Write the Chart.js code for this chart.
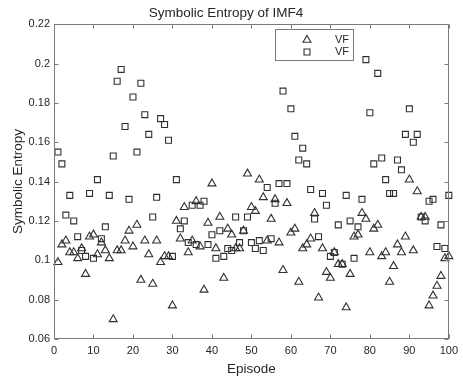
<!DOCTYPE html>
<html>
<head>
<meta charset="utf-8">
<script src="https://cdn.jsdelivr.net/npm/chart.js@4.4.1/dist/chart.umd.min.js"></script>
<style>
  html, body { margin: 0; padding: 0; background: #fff; }
  #wrap { width: 463px; height: 379px; }
</style>
</head>
<body>
<div id="wrap"><canvas id="entropyChart" width="463" height="379"></canvas></div>
<script>
  const episodes = [
    1, 2, 3, 4, 5, 6, 7, 8, 9, 10, 11, 12, 13, 14, 15, 16, 17, 18, 19, 20,
    21, 22, 23, 24, 25, 26, 27, 28, 29, 30, 31, 32, 33, 34, 35, 36, 37, 38, 39, 40,
    41, 42, 43, 44, 45, 46, 47, 48, 49, 50, 51, 52, 53, 54, 55, 56, 57, 58, 59, 60,
    61, 62, 63, 64, 65, 66, 67, 68, 69, 70, 71, 72, 73, 74, 75, 76, 77, 78, 79, 80,
    81, 82, 83, 84, 85, 86, 87, 88, 89, 90, 91, 92, 93, 94, 95, 96, 97, 98, 99, 100
  ];

  // triangle series
  const vfTriangle = [
    0.099, 0.108, 0.110, 0.104, 0.104, 0.101, 0.106, 0.093, 0.112, 0.113,
    0.103, 0.109, 0.105, 0.101, 0.070, 0.105, 0.105, 0.110, 0.115, 0.107,
    0.118, 0.090, 0.110, 0.103, 0.088, 0.110, 0.099, 0.102, 0.102, 0.077,
    0.120, 0.111, 0.127, 0.104, 0.110, 0.130, 0.107, 0.085, 0.119, 0.139,
    0.106, 0.122, 0.091, 0.116, 0.113, 0.106, 0.106, 0.115, 0.144, 0.127,
    0.125, 0.141, 0.132, 0.110, 0.121, 0.131, 0.109, 0.095, 0.129, 0.114,
    0.116, 0.089, 0.106, 0.108, 0.111, 0.124, 0.081, 0.106, 0.094, 0.091,
    0.104, 0.098, 0.098, 0.076, 0.093, 0.112, 0.113, 0.124, 0.121, 0.104,
    0.116, 0.118, 0.102, 0.104, 0.089, 0.097, 0.108, 0.104, 0.112, 0.141,
    0.105, 0.135, 0.122, 0.122, 0.077, 0.082, 0.087, 0.092, 0.101, 0.102
  ];

  // square series
  const vfSquare = [
    0.155, 0.149, 0.123, 0.133, 0.120, 0.112, 0.105, 0.102, 0.134, 0.101,
    0.141, 0.111, 0.117, 0.133, 0.153, 0.191, 0.197, 0.168, 0.131, 0.183,
    0.155, 0.190, 0.174, 0.164, 0.122, 0.132, 0.172, 0.169, 0.161, 0.102,
    0.141, 0.116, 0.120, 0.109, 0.128, 0.108, 0.128, 0.130, 0.108, 0.113,
    0.101, 0.115, 0.102, 0.106, 0.105, 0.122, 0.109, 0.115, 0.122, 0.109,
    0.106, 0.110, 0.105, 0.137, 0.111, 0.129, 0.139, 0.186, 0.139, 0.177,
    0.163, 0.151, 0.157, 0.149, 0.136, 0.121, 0.112, 0.134, 0.128, 0.102,
    0.104, 0.118, 0.098, 0.133, 0.120, 0.101, 0.117, 0.131, 0.202, 0.175,
    0.149, 0.195, 0.152, 0.141, 0.134, 0.134, 0.151, 0.146, 0.164, 0.177,
    0.160, 0.164, 0.122, 0.120, 0.130, 0.131, 0.107, 0.118, 0.106, 0.133
  ];

  const xTicks = [0, 10, 20, 30, 40, 50, 60, 70, 80, 90, 100];
  const yTicks = [0.06, 0.08, 0.1, 0.12, 0.14, 0.16, 0.18, 0.2, 0.22];
  const seriesLabels = ['VF', 'VF'];

  const FONT = '"Liberation Sans", Arial, Helvetica, sans-serif';
  const INK = '#262626';
  const MARK = '#303030';
  const AXIS = '#7a7a7a';

  function toPoints(vals) {
    return episodes.map(function (e, i) { return { x: e, y: vals[i] }; });
  }

  // box, inward ticks on all four sides, legend inside the axes
  const matlabAxes = {
    id: 'matlabAxes',
    afterDraw(chart) {
      const ctx = chart.ctx;
      const a = chart.chartArea;
      const xs = chart.scales.x, ys = chart.scales.y;
      const L = Math.round(a.left) + 0.5, R = Math.round(a.right) - 0.5;
      const T = Math.round(a.top) + 0.5, B = Math.round(a.bottom) - 0.5;
      const tick = 4;
      ctx.save();
      ctx.strokeStyle = AXIS;
      ctx.lineWidth = 1;
      ctx.strokeRect(L, T, R - L, B - T);
      ctx.beginPath();
      xTicks.forEach(function (v) {
        const px = Math.round(xs.getPixelForValue(v)) + 0.5;
        ctx.moveTo(px, B); ctx.lineTo(px, B - tick);
        ctx.moveTo(px, T); ctx.lineTo(px, T + tick);
      });
      yTicks.forEach(function (v) {
        const py = Math.round(ys.getPixelForValue(v)) + 0.5;
        ctx.moveTo(L, py); ctx.lineTo(L + tick, py);
        ctx.moveTo(R, py); ctx.lineTo(R - tick, py);
      });
      ctx.stroke();

      // legend
      const lx = 275.5, ly = 29.5, lw = 78, lh = 31;
      ctx.fillStyle = '#fff';
      ctx.fillRect(lx, ly, lw, lh);
      ctx.strokeStyle = AXIS;
      ctx.strokeRect(lx, ly, lw, lh);
      const rows = [40, 52];
      chart.data.datasets.forEach(function (ds, i) {
        const cy = rows[i];
        ctx.strokeStyle = MARK;
        ctx.fillStyle = 'rgba(0,0,0,0)';
        ctx.lineWidth = ds.borderWidth;
        Chart.helpers.drawPoint(ctx, {
          pointStyle: ds.pointStyle, radius: ds.pointRadius, rotation: 0, borderWidth: ds.borderWidth
        }, 307, cy);
        ctx.fillStyle = INK;
        ctx.font = '11px ' + FONT;
        ctx.textBaseline = 'middle';
        ctx.textAlign = 'left';
        ctx.fillText(seriesLabels[i], 335, cy);
      });
      ctx.restore();
    }
  };

  new Chart(document.getElementById('entropyChart'), {
    type: 'scatter',
    data: {
      datasets: [{
        label: seriesLabels[0],
        data: toPoints(vfTriangle),
        pointStyle: 'triangle',
        pointRadius: 4.6,
        borderColor: MARK,
        backgroundColor: 'rgba(0,0,0,0)',
        borderWidth: 1.1,
        clip: false
      }, {
        label: seriesLabels[1],
        data: toPoints(vfSquare),
        pointStyle: 'rect',
        pointRadius: 4.2,
        borderColor: MARK,
        backgroundColor: 'rgba(0,0,0,0)',
        borderWidth: 1.1,
        clip: false
      }]
    },
    options: {
      responsive: false,
      animation: false,
      devicePixelRatio: 1,
      layout: { padding: { left: 0, right: 11, top: 0, bottom: 0 } },
      plugins: {
        legend: { display: false },
        tooltip: { enabled: false },
        title: {
          display: true,
          text: 'Symbolic Entropy of IMF4',
          color: INK,
          font: { family: FONT, size: 13.5, weight: 'normal', lineHeight: 1.2 },
          padding: { top: 5, bottom: 3 }
        }
      },
      scales: {
        x: {
          type: 'linear',
          min: 0, max: 100,
          afterBuildTicks(scale) { scale.ticks = xTicks.map(function (v) { return { value: v }; }); },
          afterFit(scale) { scale.height = 40; },
          grid: { display: false, drawTicks: false },
          border: { display: false },
          ticks: { color: INK, font: { family: FONT, size: 11 }, padding: 5, maxRotation: 0 },
          title: {
            display: true, text: 'Episode', color: INK,
            font: { family: FONT, size: 13.5, lineHeight: 1.2 },
            padding: { top: 0, bottom: 2 }
          }
        },
        y: {
          type: 'linear',
          min: 0.06, max: 0.22,
          afterBuildTicks(scale) { scale.ticks = yTicks.map(function (v) { return { value: v }; }); },
          afterFit(scale) { scale.width = 54; },
          grid: { display: false, drawTicks: false },
          border: { display: false },
          ticks: {
            color: INK, font: { family: FONT, size: 11 }, padding: 4,
            callback: function (v) { return String(+v.toFixed(2)); }
          },
          title: {
            display: true, text: 'Symbolic Entropy', color: INK,
            font: { family: FONT, size: 13.5, lineHeight: 1.2 },
            padding: { top: 10, bottom: 0 }
          }
        }
      }
    },
    plugins: [matlabAxes]
  });
</script>
</body>
</html>
